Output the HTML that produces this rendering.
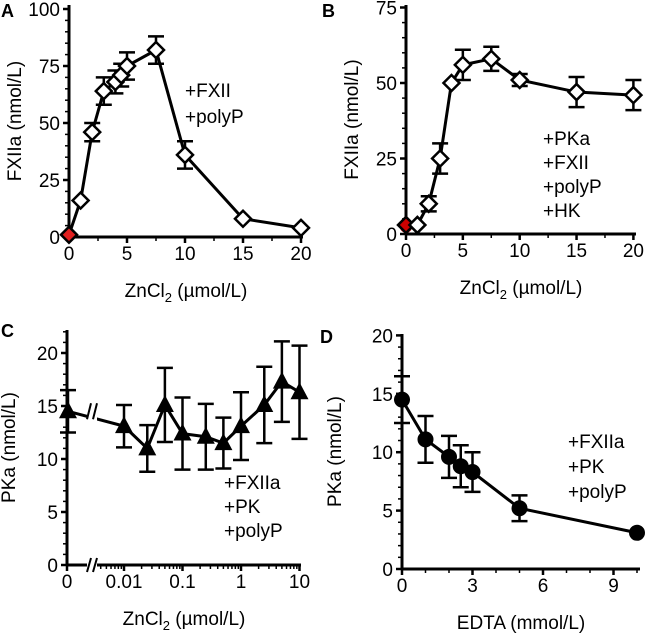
<!DOCTYPE html>
<html><head><meta charset="utf-8"><style>
html,body{margin:0;padding:0;background:#fff;}
svg{display:block;font-family:"Liberation Sans",Arial,sans-serif;}
</style></head><body>
<svg id="fig" width="645" height="640" viewBox="0 0 645 640" xmlns="http://www.w3.org/2000/svg"></svg>
<script>
// Panel A data
const aX = [0,1,2,3,4,4.5,5,7.5,10,15,20];
const aY = [1,16,46,64,68,71,75,82,36,8,4];
const aE = [0,0,4,6,5,5,6,6,6,0,0];
// Panel B data
const bX = [0,1,2,3,4,5,7.5,10,15,20];
const bY = [3,3,10,25,50,56,58,51,47,46];
const bE = [0,0,2.5,5,0,5,4,2,5,5];
// Panel C data
const cX = [0,0.01,0.025,0.05,0.1,0.25,0.5,1,2.5,5,10];
const cY = [14.5,13.1,11,15.1,12.4,12.1,11.5,13.1,15.1,17.3,16.3];
const cE = [2,2,2.2,3.5,3.4,3.1,2.4,3.2,3.6,3.8,4.4];
// Panel D data
const dX = [0,1,2,2.5,3,5,10];
const dY = [14.5,11.1,9.6,8.8,8.3,5.2,3.1];
const dE = [2,2,1.8,1.8,1.7,1.1,0];
const aTicks = ['0','25','50','75','100'];
const bTicks = ['0','25','50','75'];
const cTicks = ['0','5','10','15','20'];
const dTicks = ['0','5','10','15','20'];

const NS='http://www.w3.org/2000/svg';
const svg=document.getElementById('fig');
function el(tag,attrs,parent){const e=document.createElementNS(NS,tag);for(const k in attrs)e.setAttribute(k,attrs[k]);(parent||svg).appendChild(e);return e;}
function txt(s,x,y,size,anchor,parent,extra){const t=el('text',Object.assign({x:x,y:y,'font-size':size,'text-anchor':anchor||'start',fill:'#000'},extra||{}),parent);t.textContent=s;return t;}
const FS=19;

function panel(cfg){
  const g=el('g',{});
  
  
  const sx=cfg.sx, sy=cfg.sy;
  const ax=el('line',{x1:cfg.x0,y1:cfg.yb,x2:cfg.x0,y2:cfg.yt,stroke:'#000','stroke-width':3},g);
  
  const xa=el('line',{x1:cfg.x0-1,y1:cfg.yb,x2:cfg.xr,y2:cfg.yb,stroke:'#000','stroke-width':3},g);
  
  cfg.yTicks.forEach(s=>{const v=+s;const y=sy(v);
    el('line',{x1:cfg.x0-6,y1:y,x2:cfg.x0,y2:y,stroke:'#000','stroke-width':2.5},g);
    const t=txt(s,cfg.x0-9,y+7,FS,'end',g);
    });
  for(let v=0;v<=cfg.yMax+1e-9;v+=cfg.yMinor){el('line',{x1:cfg.x0-4,y1:sy(v),x2:cfg.x0,y2:sy(v),stroke:'#000','stroke-width':1.5},g);}
  cfg.xTicks.forEach(s=>{const x=cfg.xpos(s);
    el('line',{x1:x,y1:cfg.yb,x2:x,y2:cfg.yb+6,stroke:'#000','stroke-width':2.5},g);
    const t=txt(s,x,cfg.yb+23,FS,'middle',g);
    });
  (cfg.xMinor||[]).forEach(x=>el('line',{x1:x,y1:cfg.yb,x2:x,y2:cfg.yb+4,stroke:'#000','stroke-width':1.5},g));
  const xt=el('text',{x:(cfg.x0+cfg.xr)/2,y:cfg.yb+60,'font-size':FS,'text-anchor':'middle'},g);
  xt.innerHTML=cfg.xTitle;
  
  const yt=txt(cfg.yTitle,0,0,FS,'middle',g,{transform:`translate(${cfg.ytx},${(cfg.yb+cfg.yt)/2}) rotate(-90)`});
  
  const pl=txt(cfg.letter,cfg.lx,cfg.ly,18,'start',g,{'font-weight':'bold'});
  
  cfg.ann.forEach((s,i)=>{const t=txt(s,cfg.annX,cfg.annY+i*cfg.annDy,FS,'start',g);
    });
  let pts=cfg.X.map((x,i)=>[sx(x),sy(cfg.Y[i])]);
  const path=el('polyline',{points:pts.map(p=>p.join(',')).join(' '),fill:'none',stroke:'#000','stroke-width':3},g);
  
  if(cfg.brk){const bx=cfg.brk;
    el('rect',{x:bx-5,y:pts[0][1]-14,width:10,height:28,fill:'#fff'},g);
    el('line',{x1:bx-5,y1:pts[0][1]+8,x2:bx-1,y2:pts[0][1]-8,stroke:'#000','stroke-width':2},g);
    el('line',{x1:bx+1,y1:pts[0][1]+8,x2:bx+5,y2:pts[0][1]-8,stroke:'#000','stroke-width':2},g);
    el('rect',{x:bx-5,y:cfg.yb-8,width:10,height:16,fill:'#fff'},g);
    el('line',{x1:bx-5,y1:cfg.yb+7,x2:bx-1,y2:cfg.yb-7,stroke:'#000','stroke-width':2},g);
    el('line',{x1:bx+1,y1:cfg.yb+7,x2:bx+5,y2:cfg.yb-7,stroke:'#000','stroke-width':2},g);}
  cfg.X.forEach((x,i)=>{const e=cfg.E[i];if(!e)return;const px=sx(x);
    const y1=sy(cfg.Y[i]+e),y2=sy(cfg.Y[i]-e);
    const eb=el('path',{d:`M${px},${y1}V${y2}M${px-8},${y1}H${px+8}M${px-8},${y2}H${px+8}`,stroke:'#000','stroke-width':2.5,fill:'none'},g);
    });
  cfg.X.forEach((x,i)=>{const px=sx(x),py=sy(cfg.Y[i]);let m;
    const red=cfg.redFirst&&i===0;
    if(cfg.marker==='diamond'){
      if(red&&cfg.redCircle)el('circle',{cx:px,cy:py+2,r:6,fill:'#e33'},g);
      m=el('path',{d:`M${px},${py-8}L${px+8},${py}L${px},${py+8}L${px-8},${py}Z`,fill:red&&!cfg.redCircle?'#e02020':(red?'#c00':'#fff'),stroke:'#000','stroke-width':2.5},g);
    }else if(cfg.marker==='tri'){
      m=el('path',{d:`M${px},${py-10}L${px+9},${py+7}L${px-9},${py+7}Z`,fill:'#000'},g);
    }else{m=el('circle',{cx:px,cy:py,r:8,fill:'#000'},g);}
    });
}

const sub='ZnCl<tspan font-size="13" dy="5">2</tspan><tspan dy="-5"> (µmol/L)</tspan>';
(function(){const x0=69,yb=237;const sx=v=>x0+v*11.6,sy=v=>yb-v*2.28;
panel({name:'panel-a',x0,yb,yt:5,xr:303,sx,sy,yTicks:aTicks,yMax:100,yMinor:5,
xTicks:['0','5','10','15','20'],xpos:s=>sx(+s),xMinor:[2.5,7.5,12.5,17.5].map(sx),
xTitle:sub,yTitle:'FXIIa (nmol/L)',ytx:21,
letter:'A',lx:1,ly:17,ann:['+FXII','+polyP'],annX:185,annY:97,annDy:26,
X:aX,Y:aY,E:aE,marker:'diamond',redFirst:true});})();
(function(){const x0=406,yb=234;const sx=v=>x0+v*11.37,sy=v=>yb-v*3.02;
panel({name:'panel-b',x0,yb,yt:5,xr:636,sx,sy,yTicks:bTicks,yMax:75,yMinor:5,
xTicks:['0','5','10','15','20'],xpos:s=>sx(+s),xMinor:[2.5,7.5,12.5,17.5].map(sx),
xTitle:sub,yTitle:'FXIIa (nmol/L)',ytx:358,
letter:'B',lx:322,ly:17,ann:['+PKa','+FXII','+polyP','+HK'],annX:543,annY:145,annDy:24,
X:bX,Y:bY,E:bE,marker:'diamond',redFirst:true,redCircle:true});})();
(function(){const x0=67,yb=565;const lg=v=>124+(Math.log10(v)+2)*58.5;const sx=v=>v===0?x0+1:lg(v),sy=v=>yb-v*10.6;
const minor=[];for(let d=-3;d<1;d++)for(let k=1;k<10;k++){const v=k*Math.pow(10,d);if(v>=0.003&&v<=10)minor.push(lg(v));}
panel({name:'panel-c',x0,yb,yt:330,xr:301,sx,sy,yTicks:cTicks,yMax:22,yMinor:1,
xTicks:['0','0.01','0.1','1','10'],xpos:s=>s==='0'?x0:lg(+s),xMinor:minor,
xTitle:sub,yTitle:'PKa (nmol/L)',ytx:15,
letter:'C',lx:1,ly:337,ann:['+FXIIa','+PK','+polyP'],annX:224,annY:489,annDy:24,
X:cX,Y:cY,E:cE,marker:'tri',brk:92});})();
(function(){const x0=402,yb=569;const sx=v=>x0+v*23.5,sy=v=>yb-v*11.68;
panel({name:'panel-d',x0,yb,yt:334,xr:640,sx,sy,yTicks:dTicks,yMax:20,yMinor:1,
xTicks:['0','3','6','9'],xpos:s=>sx(+s),xMinor:[1,2,4,5,7,8,10].map(sx),
xTitle:'EDTA (mmol/L)',yTitle:'PKa (nmol/L)',ytx:341,
letter:'D',lx:320,ly:343,ann:['+FXIIa','+PK','+polyP'],annX:568,annY:448,annDy:25,
X:dX,Y:dY,E:dE,marker:'circle'});})();
</script>
</body></html>
